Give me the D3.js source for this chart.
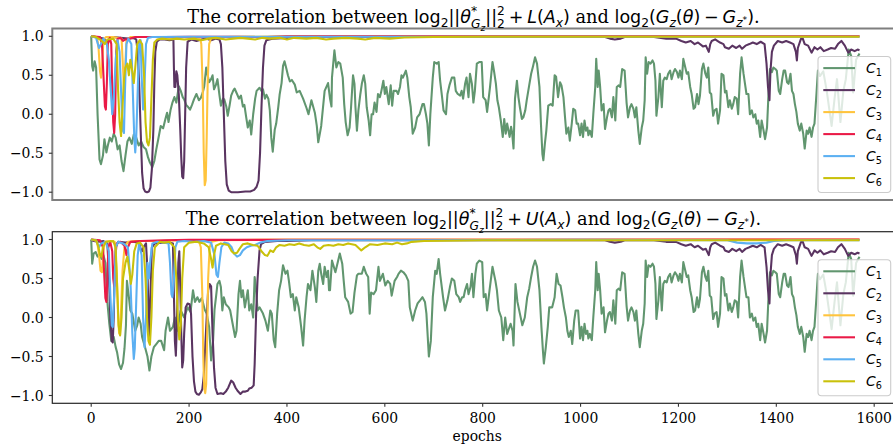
<!DOCTYPE html>
<html><head><meta charset="utf-8">
<script src="https://cdn.jsdelivr.net/npm/d3@7/dist/d3.min.js"></script>
<style>body{margin:0;background:#fff}</style>
</head><body><svg id="c" width="893" height="446"></svg>
<script>
// ---------------- DATA (epoch, correlation) ----------------
const seriesNames = ["C1","C2","C3","C4","C5","C6"];
const seriesColors = ["#61966f","#5a3461","#ffc43d","#ea1a47","#5cb0f2","#c9c10a"];
const xTicks = [0,200,400,600,800,1000,1200,1400,1600];
const yTicks = [-1.0,-0.5,0.0,0.5,1.0];
const xLabel = "epochs";
const titleLetters = ["L","U"];

const c1TopEarly = [[0,1.0],[2,0.62],[4,0.56],[7,0.68],[10,0.6],[13,0.0],[17,-0.58],[20,-0.64],[24,-0.53],[27,-0.32],[31,-0.49],[34,-0.4],[38,-0.3],[42,-0.35],[46,-0.25],[50,-0.3],[54,-0.45],[58,-0.4],[62,-0.6],[66,-0.73],[70,-0.53],[74,-0.35],[78,-0.3],[83,-0.38],[87,-0.26],[92,-0.3],[97,-0.4],[102,-0.35],[107,-0.42],[112,-0.45],[116,-0.55],[120,-0.62],[125,-0.68],[129,-0.6],[133,-0.45],[137,-0.32],[142,-0.15],[147,-0.18],[152,-0.05],[155,0.02],[158,-0.1],[162,0.05],[166,0.15],[170,0.22],[174,0.15],[179,0.36],[183,0.3],[187,0.22],[190,0.19],[194,0.12],[197,0.1],[202,0.06],[206,0.12],[210,0.19],[215,0.26],[220,0.18],[224,0.21],[228,0.28],[231,0.36],[235,0.6],[238,0.5],[241,0.41],[245,0.45],[248,0.5],[251,0.32],[255,0.38],[258,0.45],[262,0.25],[265,0.11],[269,0.2],[272,0.19],[276,0.1],[279,-0.02],[283,0.12],[286,0.24],[290,0.3],[293,0.33],[298,0.26],[302,0.2],[306,0.24],[310,0.1],[313,0.12],[317,-0.05],[320,-0.17],[324,-0.08],[327,-0.26],[331,0.0],[335,0.2],[338,0.3],[344,0.34],[348,0.3],[351,0.32],[355,0.2],[358,0.25],[362,0.2],[365,0.05],[368,-0.3],[371,-0.48],[375,-0.2],[378,-0.12],[382,0.08],[385,0.25],[389,0.4],[392,0.62],[395,0.68],[399,0.58],[402,0.5],[406,0.42],[410,0.44],[416,0.38],[420,0.28],[426,0.3],[433,0.2],[440,0.08],[444,0.0],[450,0.18],[457,0.02],[461,-0.15],[464,-0.36],[470,-0.15],[477,0.3],[484,0.4],[488,0.2]];
const c1TopMid = [[491,0.1],[492,0.47],[497,0.82],[501,0.6],[505,0.67],[509,0.65],[514,0.47],[517,0.13],[520,-0.1],[524,-0.27],[528,-0.17],[531,0.09],[535,0.5],[538,0.39],[540,0.09],[543,-0.21],[546,0.05],[550,0.26],[553,0.39],[557,0.5],[560,0.39],[563,0.09],[567,-0.08],[570,-0.27],[573,0.0],[576,0.0],[579,0.15],[583,0.03],[586,0.26],[590,0.22],[593,0.3],[597,0.43],[600,0.26],[603,0.35],[608,0.13],[612,0.37],[615,0.11],[618,0.3],[624,0.3],[627,0.26],[631,0.35],[634,0.5],[637,0.47],[643,0.56],[646,0.47],[650,0.22],[653,0.09],[657,-0.25],[662,-0.17],[666,-0.04],[671,0.0],[677,0.13],[680,0.13],[684,0.0],[687,-0.12],[690,-0.4],[693,0.0],[698,0.47],[701,0.67],[706,0.65],[710,0.67],[713,0.43],[717,0.22],[720,0.05],[725,0.0],[728,0.26],[732,0.37],[737,0.47],[742,0.47],[745,0.3],[749,0.26],[754,0.24],[757,0.3],[760,0.2],[764,0.39],[767,0.47],[771,0.22],[774,0.52],[778,0.39],[781,0.15],[784,0.3],[788,0.65],[793,0.67],[798,0.67],[801,0.22],[806,0.18],[809,0.03],[815,0.35],[820,0.67],[823,0.56],[827,0.39],[830,0.18],[833,0.09],[837,-0.08],[841,-0.29],[844,-0.06],[847,-0.25],[850,-0.12],[855,-0.29],[858,-0.16],[860,-0.23],[863,-0.44],[866,0.2],[870,0.43],[873,0.22],[876,0.09],[880,-0.06],[883,-0.04],[887,0.05],[890,0.18],[895,0.37],[899,0.52],[903,0.62],[907,0.73],[911,0.65],[916,0.35],[919,-0.12],[922,-0.51],[924,-0.59],[927,-0.38],[930,-0.21],[934,0.11],[939,0.13],[943,0.11],[947,0.5],[950,0.48],[954,0.22],[958,0.41],[961,0.37],[965,0.22],[968,-0.02],[971,-0.25],[975,-0.17],[978,-0.34],[982,-0.12],[985,0.07],[989,0.05],[992,-0.12],[995,-0.12]];
const c1BotEarly = [[0,1.0],[2,0.69],[5,0.82],[9,0.84],[13,0.78],[17,0.82],[21,0.75],[25,0.8],[29,0.7],[33,0.2],[37,-0.08],[41,-0.3],[46,-0.25],[50,-0.38],[53,-0.45],[57,-0.6],[61,-0.66],[65,-0.58],[68,-0.4],[71,-0.1],[73,0.47],[77,0.26],[80,0.09],[84,0.05],[90,-0.17],[94,-0.1],[97,0.0],[101,-0.08],[104,-0.25],[110,-0.38],[115,-0.5],[119,-0.68],[123,-0.5],[128,-0.38],[133,-0.34],[138,-0.3],[143,-0.3],[149,-0.42],[152,-0.17],[157,0.0],[161,-0.17],[167,-0.12],[171,0.0],[176,-0.17],[183,0.09],[190,0.0],[197,0.13],[203,0.07],[208,0.35],[212,0.2],[217,0.26],[221,0.2],[226,0.25],[232,0.1],[236,0.05],[241,-0.12],[245,-0.55],[249,-0.3],[252,0.1],[255,0.26],[258,0.43],[262,0.47],[265,0.39],[268,0.09],[271,0.26],[275,0.17],[281,0.13],[284,0.09],[289,-0.08],[294,-0.25],[297,-0.17],[301,0.3],[304,0.47],[307,0.26],[310,0.35],[314,0.13],[320,0.35],[323,0.09],[327,0.17],[331,0.0],[334,0.52],[337,0.35],[340,0.09],[344,0.13],[351,0.05],[356,-0.04],[361,-0.17],[366,0.09],[369,0.05],[373,-0.29],[376,-0.38],[380,0.05],[384,0.35],[388,0.47],[392,0.67],[397,0.56],[401,0.6],[404,0.47],[408,0.26],[412,0.3],[416,0.09],[419,0.26],[424,0.13],[429,-0.12],[433,-0.36],[436,-0.04],[440,0.26],[443,0.43],[448,0.35],[452,0.6],[457,0.39],[460,0.2],[464,0.6],[467,0.69],[470,0.56],[474,0.43],[477,0.65],[481,0.52],[484,0.6],[486,0.35]];
const c1BotMid = [[488,0.35],[492,0.73],[499,0.58],[508,0.82],[513,0.69],[516,0.47],[519,0.26],[525,0.2],[530,0.05],[534,0.07],[538,0.32],[543,0.54],[546,0.56],[553,0.56],[557,0.65],[562,0.56],[566,0.52],[569,0.05],[572,0.32],[577,0.3],[582,0.35],[587,0.65],[590,0.47],[596,0.56],[601,0.41],[606,0.47],[611,0.43],[614,0.28],[620,0.47],[625,0.52],[628,0.56],[633,0.6],[638,0.58],[643,0.54],[648,0.47],[651,0.13],[657,-0.04],[662,0.09],[667,0.18],[672,0.22],[677,0.26],[682,0.2],[685,0.05],[690,-0.5],[694,-0.3],[698,0.26],[703,0.6],[706,0.56],[710,0.75],[713,0.56],[719,0.26],[723,0.09],[728,0.22],[733,0.39],[737,0.5],[742,0.47],[746,0.3],[751,0.26],[754,0.2],[758,0.26],[761,0.26],[764,0.35],[768,0.43],[771,0.3],[775,0.39],[778,0.56],[781,0.26],[785,0.56],[788,0.69],[793,0.73],[799,0.71],[802,0.26],[806,0.3],[809,0.09],[814,0.35],[820,0.65],[826,0.47],[829,0.35],[833,0.09],[838,0.0],[842,-0.29],[846,0.0],[850,-0.21],[857,-0.08],[861,-0.17],[863,-0.36],[867,0.43],[871,0.2],[876,0.05],[881,-0.1],[886,0.0],[891,0.26],[895,0.37],[899,0.52],[903,0.65],[907,0.73],[911,0.65],[916,0.35],[920,-0.12],[923,-0.42],[925,-0.59],[929,-0.38],[933,-0.12],[936,0.13],[942,0.13],[947,0.26],[951,0.56],[955,0.43],[959,0.41],[963,0.26],[966,0.13],[970,0.0],[973,-0.17],[976,-0.25],[980,-0.17],[983,-0.34],[987,-0.04],[990,0.09],[995,0.09]];
const c1Late = [[999,-0.27],[1002,-0.12],[1005,-0.29],[1008,-0.08],[1011,-0.21],[1014,-0.17],[1016,-0.27],[1019,-0.21],[1023,-0.29],[1026,0.0],[1030,0.35],[1032,0.71],[1035,0.35],[1037,0.56],[1040,0.35],[1043,0.05],[1047,0.13],[1050,-0.19],[1054,-0.04],[1057,0.05],[1060,0.07],[1064,-0.04],[1067,0.22],[1071,-0.08],[1074,0.35],[1078,0.37],[1081,0.35],[1085,0.58],[1090,0.56],[1094,0.15],[1097,-0.04],[1101,0.09],[1104,0.13],[1108,0.07],[1111,-0.04],[1114,0.09],[1118,-0.21],[1121,-0.38],[1125,-0.17],[1128,-0.08],[1131,0.18],[1133,0.73],[1136,0.52],[1139,0.67],[1143,0.65],[1147,0.69],[1150,0.65],[1153,0.43],[1155,-0.02],[1159,0.22],[1162,0.52],[1166,0.09],[1169,0.43],[1172,0.47],[1176,0.45],[1179,0.52],[1183,0.56],[1186,0.45],[1190,0.54],[1193,0.58],[1197,0.54],[1200,0.47],[1203,0.56],[1207,0.45],[1210,0.71],[1214,0.6],[1217,0.52],[1220,0.54],[1224,0.35],[1227,0.26],[1231,0.07],[1234,0.09],[1238,0.26],[1241,0.13],[1244,0.24],[1248,0.58],[1251,0.65],[1255,0.52],[1258,0.47],[1261,0.6],[1264,0.28],[1267,0.26],[1271,-0.02],[1274,0.05],[1278,0.07],[1281,-0.12],[1285,0.05],[1288,0.52],[1292,0.5],[1295,0.28],[1298,0.3],[1302,0.09],[1305,0.18],[1309,0.07],[1312,0.13],[1315,0.22],[1319,0.2],[1322,0.0],[1326,0.52],[1329,0.73],[1333,0.52],[1336,0.39],[1339,0.26],[1343,0.26],[1346,0.0],[1350,0.05],[1353,-0.04],[1357,0.0],[1360,-0.12],[1363,-0.08],[1367,-0.29],[1370,-0.08],[1374,-0.21],[1377,-0.32],[1381,-0.17],[1384,0.26],[1387,0.58],[1391,0.54],[1394,0.6],[1398,0.58],[1401,0.56],[1405,0.3],[1408,0.26],[1412,0.45],[1415,0.56],[1418,0.56],[1422,0.41],[1425,0.39],[1429,0.52],[1432,0.3],[1435,0.26],[1438,0.13],[1441,0.03],[1444,-0.12],[1448,-0.21],[1451,-0.12],[1455,-0.25],[1458,-0.44],[1462,-0.21],[1465,-0.25],[1468,-0.17],[1472,-0.29],[1475,-0.17],[1478,-0.12],[1482,0.26],[1485,0.56],[1489,0.49],[1496,0.55],[1503,0.3],[1513,-0.15],[1519,0.2],[1524,0.45],[1531,-0.1],[1537,0.3],[1542,0.45],[1548,0.83],[1553,0.75],[1557,0.28],[1563,0.7],[1570,0.78]];

const c2TopEarly = [[0,1.0],[10,0.99],[25,0.97],[32,0.93],[38,0.97],[45,0.99],[60,0.98],[75,0.97],[85,0.98],[92,0.96],[95,0.8],[98,0.4],[101,-0.2],[104,-0.75],[107,-0.95],[110,-0.99],[114,-1.0],[118,-0.99],[121,-0.94],[124,-0.7],[127,-0.2],[129,0.4],[131,0.8],[134,0.93],[140,0.96],[150,0.96],[160,0.95],[168,0.96],[169,0.6],[170,0.35],[172,0.35],[174,0.55],[176,0.5],[179,0.25],[182,-0.2],[184,-0.55],[186,-0.8],[188,-0.82],[190,-0.6],[192,0.0],[194,0.6],[197,0.93],[205,0.96],[215,0.94],[225,0.96],[235,0.97],[245,0.95],[255,0.97],[262,0.96],[265,0.9],[268,0.6],[271,0.0],[274,-0.6],[277,-0.9],[281,-0.98],[286,-1.0],[300,-1.0],[315,-0.99],[325,-0.99],[333,-0.97],[338,-0.93],[342,-0.85],[345,-0.5],[348,0.1],[351,0.6],[354,0.88],[358,0.95],[370,0.97]];
const c2BotEarly = [[0,1.0],[5,0.98],[15,0.97],[25,0.98],[33,0.95],[36,0.6],[39,0.0],[42,-0.3],[44,-0.32],[46,0.0],[48,0.6],[50,0.9],[55,0.97],[70,0.96],[85,0.97],[98,0.96],[101,0.88],[104,0.85],[107,0.9],[112,0.95],[115,0.6],[118,-0.24],[121,0.3],[124,0.9],[130,0.95],[145,0.96],[160,0.96],[167,0.95],[169,0.3],[171,-0.3],[173,-0.49],[175,-0.1],[178,0.7],[180,0.85],[182,0.4],[184,-0.2],[186,-0.64],[188,-0.55],[190,-0.2],[193,0.13],[197,0.18],[201,0.17],[204,0.05],[207,-0.5],[210,-0.82],[213,-0.95],[216,-0.98],[220,-0.99],[224,-0.96],[227,-0.92],[230,-0.75],[233,-0.38],[236,0.0],[239,0.35],[242,0.43],[245,0.4],[248,-0.2],[251,-0.65],[254,-0.9],[258,-0.98],[265,-0.97],[270,-0.98],[275,-0.95],[280,-0.9],[286,-0.81],[290,-0.83],[295,-0.9],[299,-0.94],[305,-0.98],[310,-0.95],[315,-0.95],[320,-0.94],[323,-0.91],[328,-0.9],[332,-0.87],[334,-0.6],[337,0.05],[340,0.5],[344,0.86],[347,0.94],[355,0.97],[380,0.98]];
const c2Late = [[400,0.98],[450,0.99],[500,0.99],[600,0.99],[700,0.99],[800,0.99],[900,0.99],[1000,0.99],[1050,0.99],[1060,0.97],[1070,0.96],[1082,0.97],[1090,0.99],[1150,0.99],[1175,0.97],[1195,0.97],[1206,0.94],[1215,0.92],[1225,0.94],[1233,0.9],[1240,0.92],[1250,0.87],[1256,0.88],[1262,0.8],[1265,0.9],[1268,0.94],[1275,0.96],[1285,0.92],[1292,0.9],[1295,0.86],[1303,0.84],[1310,0.88],[1318,0.85],[1325,0.88],[1330,0.84],[1337,0.88],[1345,0.9],[1352,0.92],[1360,0.9],[1368,0.93],[1376,0.9],[1380,0.65],[1383,0.35],[1386,0.18],[1388,0.55],[1391,0.8],[1395,0.88],[1403,0.94],[1412,0.92],[1420,0.94],[1428,0.92],[1435,0.9],[1440,0.8],[1442,0.69],[1444,0.85],[1450,0.96],[1453,0.99],[1458,0.9],[1465,0.88],[1472,0.79],[1478,0.86],[1484,0.83],[1490,0.86],[1497,0.81],[1505,0.83],[1512,0.85],[1520,0.84],[1526,0.9],[1533,0.94],[1540,0.88],[1547,0.79],[1553,0.83],[1560,0.81],[1566,0.83],[1570,0.82]];

const c3Top = [[0,1.0],[12,0.99],[15,0.85],[18,0.55],[20,0.47],[22,0.6],[25,0.95],[30,0.99],[45,0.99],[62,0.97],[65,0.6],[67,0.3],[69,0.55],[72,0.95],[80,0.99],[100,0.99],[130,0.99],[160,0.98],[200,0.99],[222,0.98],[225,0.9],[228,0.3],[230,-0.5],[232,-0.91],[234,-0.85],[236,-0.3],[238,0.4],[241,0.9],[245,0.98],[260,0.99],[400,1.0],[1570,1.0]];
const c3Bot = [[0,1.0],[12,0.98],[16,0.8],[19,0.6],[22,0.58],[25,0.85],[28,0.97],[40,0.98],[48,0.97],[52,0.6],[55,0.0],[57,-0.2],[59,-0.22],[61,0.1],[64,0.6],[68,0.9],[75,0.97],[90,0.98],[130,0.98],[180,0.99],[220,0.98],[224,0.9],[227,0.3],[229,-0.5],[231,-0.9],[233,-0.97],[235,-0.85],[237,-0.2],[239,0.5],[242,0.9],[246,0.97],[260,0.99],[400,1.0],[1570,1.0]];
const c4Top = [[0,1.0],[18,0.99],[22,0.9],[25,0.5],[28,0.1],[30,0.06],[32,0.4],[34,0.9],[38,0.98],[41,0.9],[43,0.3],[45,-0.1],[47,-0.24],[49,0.0],[51,0.8],[54,0.97],[60,0.98],[65,0.94],[70,0.96],[78,0.97],[90,0.99],[150,0.99],[200,0.995],[300,0.995],[345,0.99],[352,0.98],[360,0.99],[400,1.0],[1570,1.0]];
const c4Bot = [[0,1.0],[18,0.99],[24,0.9],[27,0.5],[29,0.25],[31,0.2],[33,0.5],[35,0.9],[39,0.97],[43,0.85],[45,0.5],[47,0.4],[49,0.75],[52,0.95],[60,0.97],[68,0.92],[72,0.8],[75,0.9],[80,0.97],[100,0.98],[150,0.99],[200,0.995],[1570,1.0]];
const c5Top = [[0,1.0],[10,0.98],[16,0.85],[20,0.9],[25,0.97],[32,0.9],[36,0.7],[40,0.3],[43,0.0],[46,0.2],[50,0.7],[54,0.95],[58,0.8],[61,0.3],[64,-0.2],[67,-0.24],[69,0.3],[72,0.9],[76,0.97],[82,0.9],[85,0.3],[88,-0.3],[90,-0.49],[92,-0.3],[95,0.3],[98,0.9],[101,0.95],[103,0.5],[106,0.06],[109,0.4],[112,0.9],[116,0.98],[125,0.99],[200,0.995],[1570,0.995]];
const c5Bot = [[0,1.0],[10,0.99],[16,0.9],[20,0.95],[30,0.97],[36,0.85],[39,0.3],[42,-0.1],[44,-0.12],[47,0.3],[50,0.9],[55,0.97],[65,0.95],[75,0.9],[80,0.5],[84,-0.2],[87,-0.53],[89,-0.4],[92,0.2],[95,0.8],[98,0.95],[103,0.8],[106,0.0],[109,-0.38],[112,0.0],[115,0.7],[118,0.5],[121,0.75],[125,0.95],[135,0.97],[150,0.96],[158,0.95],[161,0.7],[164,0.3],[166,0.26],[169,0.5],[172,0.9],[176,0.97],[190,0.98],[210,0.97],[230,0.98],[245,0.96],[252,0.8],[256,0.55],[259,0.52],[262,0.7],[266,0.9],[272,0.96],[280,0.95],[287,0.9],[292,0.82],[298,0.78],[304,0.8],[310,0.86],[318,0.9],[326,0.92],[335,0.93],[345,0.96],[360,0.98],[400,0.99],[600,0.99],[1000,0.995],[1300,0.99],[1320,0.96],[1340,0.95],[1360,0.95],[1380,0.96],[1395,0.98],[1420,0.99],[1570,0.99]];
const c6Top = [[0,1.0],[10,0.99],[20,0.95],[28,0.9],[33,0.96],[45,0.97],[52,0.9],[55,0.3],[58,-0.1],[61,-0.28],[64,0.1],[67,0.45],[70,0.6],[74,0.65],[77,0.5],[80,0.7],[84,0.55],[87,0.4],[90,0.6],[94,0.9],[99,0.95],[104,0.9],[108,0.5],[111,-0.1],[114,-0.35],[117,-0.4],[120,-0.3],[123,0.2],[126,0.7],[129,0.92],[135,0.96],[145,0.97],[160,0.96],[175,0.97],[190,0.96],[210,0.97],[225,0.95],[240,0.97],[255,0.98],[275,0.96],[290,0.97],[305,0.98],[320,0.97],[335,0.96],[350,0.98],[365,0.97],[385,0.98],[400,0.96],[415,0.98],[440,0.97],[460,0.98],[480,0.96],[495,0.97],[520,0.98],[545,0.97],[560,0.96],[580,0.98],[610,0.97],[640,0.985],[700,0.99],[800,0.995],[1570,0.995]];
const c6Bot = [[0,1.0],[10,0.99],[15,0.9],[18,0.8],[21,0.78],[24,0.9],[30,0.97],[45,0.98],[50,0.9],[53,0.4],[56,-0.1],[59,-0.23],[62,0.0],[65,0.5],[70,0.7],[74,0.78],[78,0.6],[81,0.43],[84,0.55],[88,0.85],[93,0.95],[100,0.96],[107,0.9],[111,0.5],[114,0.0],[117,-0.3],[120,-0.35],[123,0.0],[126,0.6],[130,0.9],[140,0.97],[150,0.96],[160,0.97],[170,0.9],[174,0.5],[177,0.0],[180,-0.28],[183,-0.1],[186,0.5],[190,0.9],[200,0.96],[215,0.97],[230,0.95],[240,0.9],[245,0.75],[248,0.64],[251,0.8],[255,0.92],[265,0.95],[280,0.93],[287,0.85],[292,0.82],[298,0.83],[303,0.88],[310,0.94],[320,0.95],[330,0.93],[340,0.92],[348,0.85],[355,0.8],[360,0.79],[366,0.86],[372,0.84],[378,0.9],[385,0.93],[395,0.92],[405,0.94],[415,0.93],[425,0.95],[435,0.93],[445,0.92],[455,0.94],[462,0.9],[468,0.88],[475,0.92],[485,0.93],[495,0.92],[505,0.94],[515,0.93],[525,0.95],[540,0.93],[552,0.86],[560,0.9],[570,0.94],[585,0.93],[600,0.95],[615,0.94],[625,0.96],[635,0.94],[645,0.95],[655,0.97],[680,0.98],[720,0.985],[800,0.99],[1570,0.99]];

// ---------------- LAYOUT ----------------
const W = 893, H = 446;
const svg = d3.select("#c");
svg.append("rect").attr("width", W).attr("height", H).attr("fill", "#fff");
const X0 = 52.3, X1 = 908.2;
const x = d3.scaleLinear().domain([-79.5, 1669.5]).range([X0, X1]);
const SERIF = "DejaVu Serif", SANS = "DejaVu Sans";

const panels = [
  { top: 28.5, bottom: 200, spine: "#7f7f7f", sw: 2, showX: false, titleY: 22.8,
    series: [c1TopEarly.concat(c1TopMid, c1Late), c2TopEarly.concat(c2Late), c3Top, c4Top, c5Top, c6Top] },
  { top: 231.7, bottom: 403.3, spine: "#262626", sw: 1.2, showX: true, titleY: 224.8,
    series: [c1BotEarly.concat(c1BotMid, c1Late), c2BotEarly.concat(c2Late), c3Bot, c4Bot, c5Bot, c6Bot] }
];

const probe = svg.append("text").attr("font-family", SERIF).attr("font-size", 100).text("The correlation between");
const SERIF_TITLE = 100 * 221 / probe.node().getComputedTextLength();
probe.remove();
const MATH = 17.5;

// one <text>; stacked super/subscripts share one tspan with per-glyph positions
function rich(parent, cx, baseline, runs) {
  const t = parent.append("text").attr("fill", "#000").style("white-space", "pre");
  let xc = 0;
  const spans = [];
  runs.forEach(r => {
    const base = r.f === "serif" ? SERIF_TITLE : MATH;
    const size = base * (r.s || 1);
    xc += (r.pre || 0) * MATH;
    const el = t.append("tspan")
      .attr("font-family", r.f === "serif" ? SERIF : SANS)
      .attr("font-style", r.i ? "italic" : "normal")
      .attr("font-size", size).text(r.t);
    const node = el.node();
    if (r.stack) {
      el.attr("y", `${baseline + r.stack[0] * MATH} ${baseline + r.stack[1] * MATH}`);
      const w0 = node.getSubStringLength(0, 1), w1 = node.getSubStringLength(1, 1);
      spans.push([el, [xc, xc]]);
      let end = xc + Math.max(w0, w1);
      if (r.tail) {
        const t2 = t.append("tspan").attr("font-family", SANS).attr("font-style", "italic")
          .attr("font-size", MATH * r.tail.s).attr("y", baseline + r.tail.dy * MATH).text(r.tail.t);
        spans.push([t2, [xc + w1]]);
        end = Math.max(end, xc + w1 + t2.node().getComputedTextLength());
      }
      xc = end;
    } else {
      el.attr("y", baseline + (r.dy || 0) * MATH);
      spans.push([el, [xc]]);
      xc += node.getComputedTextLength();
    }
    xc += (r.post || 0) * MATH;
  });
  const off = cx - xc / 2;
  spans.forEach(([el, xs]) => el.attr("x", xs.map(v => (v + off).toFixed(2)).join(" ")));
  return t;
}

function titleRuns(letter) {
  const SUB = 0.22, SUP = -0.42, SS = 0.7;
  return [
    { t: "The correlation between ", f: "serif" },
    { t: "log" }, { t: "2", s: SS, dy: SUB },
    { t: "||" }, { t: "θ", i: true },
    { t: "*G", s: SS, i: true, stack: [SUP, SUB + 0.08], tail: { t: "z", s: SS * 0.75, dy: SUB + 0.26 } },
    { t: "||" },
    { t: "22", s: SS, stack: [SUP, SUB + 0.05] },
    { t: "+", pre: 0.22, post: 0.22 },
    { t: letter, i: true }, { t: "(" }, { t: "A", i: true }, { t: "x", s: SS, dy: SUB, i: true }, { t: ")" },
    { t: " and ", f: "serif" },
    { t: "log" }, { t: "2", s: SS, dy: SUB },
    { t: "(" }, { t: "G", i: true }, { t: "z", s: SS, dy: SUB, i: true },
    { t: "(" }, { t: "θ", i: true }, { t: ")" },
    { t: "−", pre: 0.22, post: 0.22 },
    { t: "G", i: true }, { t: "z", s: SS, dy: SUB, i: true }, { t: "*", s: SS * 0.75, dy: SUB - 0.2 },
    { t: ")" },
    { t: ".", f: "serif" }
  ];
}

const line = y => d3.line().x(d => x(d[0])).y(d => y(d[1]));

panels.forEach((p, pi) => {
  const y = d3.scaleLinear().domain([-1.1, 1.1]).range([p.bottom, p.top]);
  const g = svg.append("g");
  const cid = "clip" + pi;
  svg.append("clipPath").attr("id", cid).append("rect")
    .attr("x", X0).attr("y", p.top).attr("width", X1 - X0).attr("height", p.bottom - p.top);

  const lg = g.append("g").attr("clip-path", `url(#${cid})`);
  p.series.forEach((s, i) => {
    lg.append("path").datum(s).attr("d", line(y)).attr("fill", "none")
      .attr("stroke", seriesColors[i]).attr("stroke-width", 2.08)
      .attr("stroke-linejoin", "round").attr("stroke-linecap", "butt");
  });

  g.append("rect").attr("x", X0).attr("y", p.top).attr("width", X1 - X0).attr("height", p.bottom - p.top)
    .attr("fill", "none").attr("stroke", p.spine).attr("stroke-width", p.sw);

  yTicks.forEach(v => {
    g.append("line").attr("x1", X0 - 3.5).attr("x2", X0).attr("y1", y(v)).attr("y2", y(v))
      .attr("stroke", "#333").attr("stroke-width", 1.1);
    g.append("text").attr("x", X0 - 8.6).attr("y", y(v) + 5).attr("text-anchor", "end")
      .attr("font-family", SERIF).attr("font-size", 13.9).attr("fill", "#000")
      .text((v < 0 ? "\u2212" : "") + Math.abs(v).toFixed(1));
  });

  if (p.showX) {
    xTicks.forEach(v => {
      g.append("line").attr("x1", x(v)).attr("x2", x(v)).attr("y1", p.bottom).attr("y2", p.bottom + 3.5)
        .attr("stroke", "#333").attr("stroke-width", 1.1);
      g.append("text").attr("x", x(v)).attr("y", p.bottom + 20).attr("text-anchor", "middle")
        .attr("font-family", SERIF).attr("font-size", 13.9).attr("fill", "#000").text(v);
    });
    g.append("text").attr("x", (X0 + X1) / 2 - 3).attr("y", 440.5).attr("text-anchor", "middle")
      .attr("font-family", SERIF).attr("font-size", 13.9).attr("fill", "#000").text(xLabel);
  }

  rich(g, 473.5, p.titleY, titleRuns(titleLetters[pi]));

  const lx = 818, ly = p.top + 28, lw = 72.7, lh = 136;
  const leg = g.append("g");
  leg.append("rect").attr("x", lx).attr("y", ly).attr("width", lw).attr("height", lh)
    .attr("rx", 3.5).attr("fill", "#fff").attr("fill-opacity", 0.8)
    .attr("stroke", "#cccccc").attr("stroke-width", 1.1);
  seriesNames.forEach((n, i) => {
    const ry = ly + 11.6 + i * 22;
    leg.append("line").attr("x1", lx + 5.3).attr("x2", lx + 37).attr("y1", ry).attr("y2", ry)
      .attr("stroke", seriesColors[i]).attr("stroke-width", 2.08);
    const t = leg.append("text").attr("x", lx + 48).attr("y", ry + 5)
      .attr("font-family", SANS).attr("font-size", 13.9).attr("fill", "#000");
    t.append("tspan").attr("font-style", "italic").text(n[0]);
    t.append("tspan").attr("font-size", 9.7).attr("dy", 3).text(n.slice(1));
  });
});
</script>
</body></html>
